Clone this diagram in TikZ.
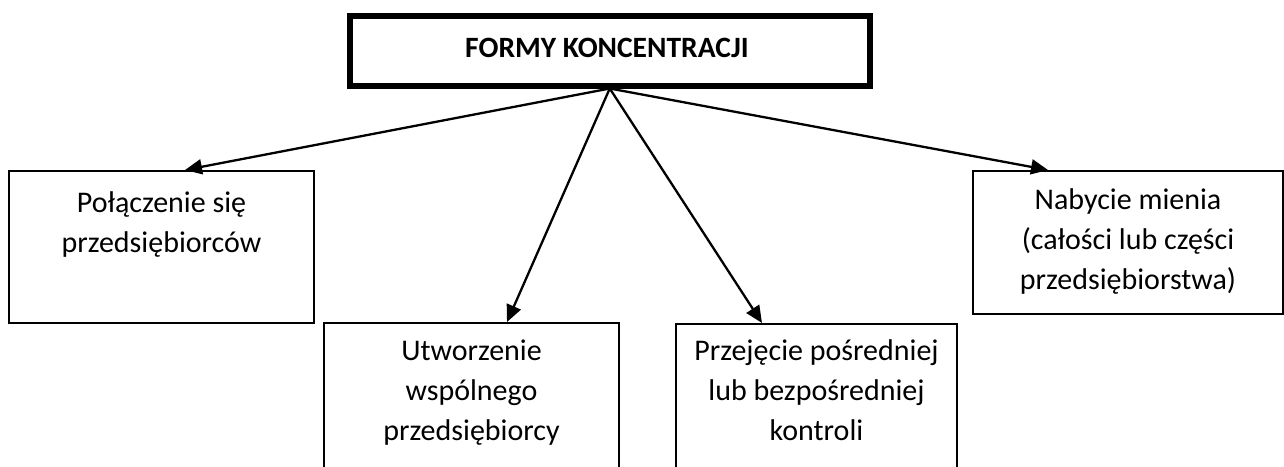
\documentclass[tikz,border=0pt]{standalone}
\usepackage{fontspec}
\setmainfont{Carlito}
\usetikzlibrary{arrows.meta,calc}
\begin{document}
\begin{tikzpicture}[x=1pt,y=-1pt,
  box/.style={draw=black,line width=2pt,rectangle,inner sep=0pt,anchor=north west},
  topbox/.style={draw=black,line width=5.5pt,rectangle,inner sep=0pt,anchor=north west},
  txt/.style={align=center,inner sep=0pt,font=\fontsize{30}{40}\selectfont,anchor=base},
  arr/.style={line width=2.3pt,-{Triangle[length=17pt,width=15pt]}}]
\useasboundingbox (0,0) rectangle (1284,466);
\node[topbox,minimum width=520pt,minimum height=70pt] (top) at (347,13) {};
\node[font=\fontsize{29.5}{34}\selectfont\bfseries,inner sep=0pt,anchor=base] (title) at (607,57) {FORMY KONCENTRACJI};
\node[box,minimum width=305pt,minimum height=152pt] (b1) at (8,170) {};
\node[box,minimum width=295pt,minimum height=160pt] (b2) at (323,322) {};
\node[box,minimum width=281pt,minimum height=160pt] (b3) at (675,323) {};
\node[box,minimum width=310pt,minimum height=143pt] (b4) at (972,170) {};
\node[txt] (t1) at ($(b1.north)+(0,82)$) {Połączenie się\\przedsiębiorców};
\node[txt] (t2) at ($(b2.north)+(0,118)$) {Utworzenie\\wspólnego\\przedsiębiorcy};
\node[txt] (t3) at ($(b3.north)+(0,117)$) {Przejęcie pośredniej\\lub bezpośredniej\\kontroli};
\node[txt] (t4) at ($(b4.north)+(0,119)$) {Nabycie mienia\\(całości lub części\\przedsiębiorstwa)};
\coordinate (o) at (top.south);
\draw[arr] (o) -- ($(b1.north west)+(177,0)$);
\draw[arr] (o) -- ($(b2.north west)+(184,0)$);
\draw[arr] (o) -- ($(b3.north west)+(87,0)$);
\draw[arr] (o) -- ($(b4.north west)+(76,0)$);
\end{tikzpicture}
\end{document}
